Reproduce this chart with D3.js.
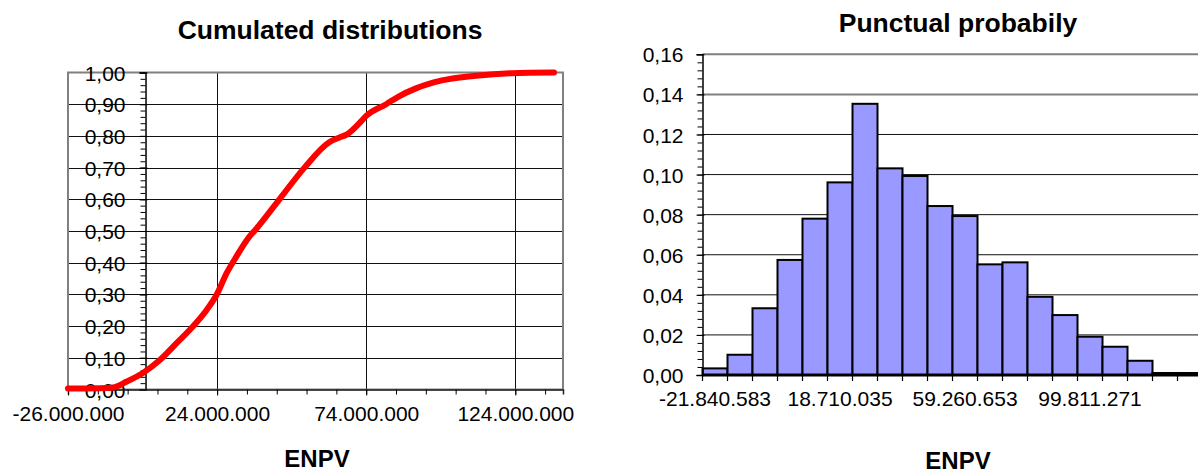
<!DOCTYPE html>
<html>
<head>
<meta charset="utf-8">
<script src="https://cdn.jsdelivr.net/npm/d3@7"></script>
<style>
  html, body { margin: 0; padding: 0; background: #fff; }
  svg { display: block; }
  text { font-family: "Liberation Sans", Arial, sans-serif; fill: #000; }
</style>
</head>
<body>
<svg id="chart" width="1198" height="473"></svg>
<script>
// ---------- Data: cumulated distribution (left) ----------
const cdfX = [-26000000, -15300000, -11000000, -6300000, -900000, 4800000, 10500000, 15800000,
  20500000, 23800000, 27200000, 30500000, 34900000, 36500000, 44900000, 53300000, 61600000,
  65000000, 67600000, 71700000, 74000000, 80700000, 85000000, 90700000, 99400000, 110800000,
  122800000, 137000000];
const cdfY = [0.003, 0.004, 0.006, 0.025, 0.052, 0.093, 0.147, 0.198, 0.251, 0.298, 0.367, 0.42,
  0.483, 0.50, 0.60, 0.70, 0.78, 0.795, 0.805, 0.84, 0.863, 0.90, 0.925, 0.95, 0.975, 0.99,
  0.998, 1.0];
const cdfXTicks = [-26000000, 24000000, 74000000, 124000000];
const cdfYTicks = [0, 0.1, 0.2, 0.3, 0.4, 0.5, 0.6, 0.7, 0.8, 0.9, 1.0];

// ---------- Data: punctual probability histogram (right) ----------
const binLabels = ["-21.840.583", "-13.730.459", "-5.620.336", "2.489.788", "10.599.911",
  "18.710.035", "26.820.159", "34.930.282", "43.040.406", "51.150.530",
  "59.260.653", "67.370.777", "75.480.900", "83.591.024", "91.701.147",
  "99.811.271", "107.921.395", "116.031.518", "124.141.642", "132.251.765"];
const binProb = [0.0033, 0.0101, 0.0333, 0.0574, 0.078, 0.0961, 0.1353, 0.1031, 0.0993, 0.0843,
  0.0793, 0.0552, 0.0562, 0.039, 0.0299, 0.0191, 0.0141, 0.0071, 0.001, 0.001];
const histYTicks = [0, 0.02, 0.04, 0.06, 0.08, 0.10, 0.12, 0.14, 0.16];
const shownBinLabels = ["-21.840.583", "18.710.035", "59.260.653", "99.811.271"];

const titles = ["Cumulated distributions", "Punctual probabily"];
const axisTitle = "ENPV";

// ---------- Setup ----------
const svg = d3.select("#chart");
const loc = d3.formatLocale({decimal: ",", thousands: ".", grouping: [3], currency: ["", ""], minus: "-"});
const fmtBig = loc.format(",.0f");
const fmt2 = loc.format(".2f");
const FS = "21px";

// ================= LEFT CHART =================
const L = {x0: 68, x1: 563, y0: 72.5, y1: 389.5};
const xL = d3.scaleLinear().domain([-26000000, 140000000]).range([L.x0, L.x1]);
const yL = d3.scaleLinear().domain([0, 1]).range([L.y1, L.y0]);
const gL = svg.append("g");

gL.append("g").selectAll("line").data(cdfYTicks.filter(d => d > 0 && d < 1)).join("line")
  .attr("x1", L.x0).attr("x2", L.x1)
  .attr("y1", d => Math.round(yL(d)) + 0.5).attr("y2", d => Math.round(yL(d)) + 0.5)
  .attr("stroke", "#111").attr("stroke-width", 1);
gL.append("g").selectAll("line").data(cdfXTicks.slice(1)).join("line")
  .attr("x1", d => Math.round(xL(d)) + 0.5).attr("x2", d => Math.round(xL(d)) + 0.5)
  .attr("y1", L.y0).attr("y2", L.y1)
  .attr("stroke", "#111").attr("stroke-width", 1);
gL.append("rect").attr("x", L.x0).attr("y", L.y0)
  .attr("width", L.x1 - L.x0).attr("height", L.y1 - L.y0)
  .attr("fill", "none").attr("stroke", "#808080").attr("stroke-width", 2);

const yAxisL = gL.append("g").attr("transform", `translate(${xL(0)},0)`);
yAxisL.call(d3.axisLeft(yL).tickValues(d3.range(0, 1.0001, 0.02)).tickSize(5).tickFormat(""))
  .call(g => g.select(".domain").remove());
const yAxisLMaj = gL.append("g").attr("transform", `translate(${xL(0)},0)`);
yAxisLMaj.call(d3.axisLeft(yL).tickValues(cdfYTicks).tickSize(6).tickPadding(14).tickFormat(fmt2));
yAxisLMaj.selectAll(".tick line").attr("x2", 2).attr("x1", -6);
yAxisLMaj.select(".domain").attr("stroke", "#000").attr("stroke-width", 1.5);
yAxisLMaj.selectAll("text").style("font-size", FS).attr("dy", "0.36em");

const xAxisL = gL.append("g").attr("transform", `translate(0,${L.y1})`);
xAxisL.call(d3.axisBottom(xL).tickValues(d3.range(-26000000, 140000001, 10000000)).tickSize(5).tickFormat(""));
xAxisL.select(".domain").attr("stroke", "#222").attr("stroke-width", 1.5);
const xAxisLMaj = gL.append("g").attr("transform", `translate(0,${L.y1})`);
xAxisLMaj.call(d3.axisBottom(xL).tickValues(cdfXTicks).tickSize(6).tickPadding(11).tickFormat(fmtBig))
  .call(g => g.select(".domain").remove());
xAxisLMaj.selectAll("text").style("font-size", FS);

const line = d3.line().curve(d3.curveMonotoneX).x((d, i) => xL(cdfX[i])).y(d => yL(d));
gL.append("path").datum(cdfY).attr("d", line)
  .attr("fill", "none").attr("stroke", "#ff0000").attr("stroke-width", 6)
  .attr("stroke-linejoin", "round").attr("stroke-linecap", "round");

gL.append("text").attr("x", 330).attr("y", 39).attr("text-anchor", "middle")
  .style("font-size", "26.5px").style("font-weight", "bold").text(titles[0]);
gL.append("text").attr("x", 317).attr("y", 467).attr("text-anchor", "middle")
  .style("font-size", "24px").style("font-weight", "bold").text(axisTitle);

// ================= RIGHT CHART =================
const R = {x0: 702.5, x1: 1202.5, y0: 54.3, y1: 375};
const xR = d3.scaleBand().domain(binLabels).range([R.x0, R.x1]).padding(0);
const yR = d3.scaleLinear().domain([0, 0.16]).range([R.y1, R.y0]);
const gR = svg.append("g");

gR.append("g").selectAll("line").data(histYTicks.filter(d => d > 0)).join("line")
  .attr("x1", R.x0).attr("x2", 1198)
  .attr("y1", d => yR(d)).attr("y2", d => yR(d))
  .attr("stroke", d => d >= 0.14 ? "#808080" : "#111")
  .attr("stroke-width", d => d >= 0.14 ? 2 : 1);

gR.append("g").selectAll("rect").data(binProb).join("rect")
  .attr("x", (d, i) => xR(binLabels[i]))
  .attr("width", xR.bandwidth())
  .attr("y", d => yR(d))
  .attr("height", d => yR(0) - yR(d))
  .attr("fill", "#9999ff").attr("stroke", "#000").attr("stroke-width", 2);

const yAxisR = gR.append("g").attr("transform", `translate(${R.x0},0)`);
yAxisR.call(d3.axisLeft(yR).tickValues(d3.range(0, 0.16001, 0.004)).tickSize(5).tickFormat(""))
  .call(g => g.select(".domain").remove());
const yAxisRMaj = gR.append("g").attr("transform", `translate(${R.x0},0)`);
yAxisRMaj.call(d3.axisLeft(yR).tickValues(histYTicks).tickSize(6).tickPadding(13).tickFormat(fmt2));
yAxisRMaj.selectAll(".tick line").attr("x1", -6).attr("x2", 2);
yAxisRMaj.select(".domain").attr("stroke", "#000").attr("stroke-width", 1.5);
yAxisRMaj.selectAll("text").style("font-size", FS).attr("dy", "0.36em");

const xAxisR = gR.append("g").attr("transform", `translate(0,${R.y1})`);
xAxisR.append("line").attr("x1", R.x0).attr("x2", 1198).attr("stroke", "#000").attr("stroke-width", 3);
xAxisR.selectAll("line.tk").data(d3.range(binLabels.length + 1)).join("line").attr("class", "tk")
  .attr("x1", i => R.x0 + i * xR.bandwidth()).attr("x2", i => R.x0 + i * xR.bandwidth())
  .attr("y1", 0).attr("y2", 6).attr("stroke", "#000").attr("stroke-width", 1.2);
const xAxisRLab = gR.append("g").attr("transform", `translate(0,${R.y1})`);
xAxisRLab.call(d3.axisBottom(xR).tickValues(shownBinLabels).tickSize(0).tickPadding(26))
  .call(g => g.select(".domain").remove());
xAxisRLab.selectAll("text").style("font-size", FS).attr("dy", "0.25em");

gR.append("text").attr("x", 958).attr("y", 32).attr("text-anchor", "middle")
  .style("font-size", "26.5px").style("font-weight", "bold").text(titles[1]);
gR.append("text").attr("x", 958).attr("y", 469).attr("text-anchor", "middle")
  .style("font-size", "24px").style("font-weight", "bold").text(axisTitle);

svg.selectAll(".tick text").style("font-family", '"Liberation Sans", Arial, sans-serif').attr("fill", "#000");
</script>
</body>
</html>
